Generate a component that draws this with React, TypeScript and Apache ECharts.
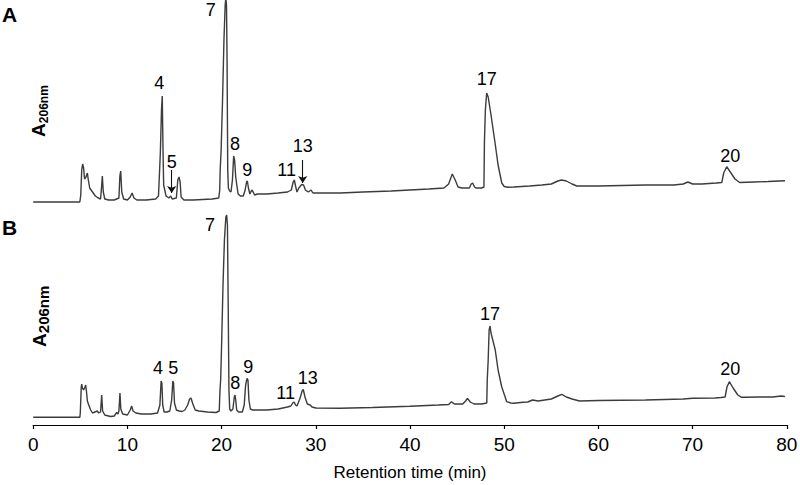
import React, { useEffect, useRef } from "react";
import * as echarts from "echarts";

// Retention time (min), absorbance (arbitrary units)
const traceA: [number, number][] = [
  [0, 8], [4.95, 8], [5.05, 15], [5.15, 40], [5.25, 46], [5.35, 42], [5.45, 31], [5.6, 33], [5.75, 37], [5.85, 30],
  [6.0, 22], [6.3, 18], [6.6, 14], [6.9, 12], [7.15, 11], [7.25, 22], [7.34, 34], [7.44, 18], [7.6, 11], [8.0, 10],
  [8.6, 10], [9.1, 12], [9.2, 34], [9.29, 39], [9.4, 18], [9.6, 11], [10.0, 10], [10.3, 13], [10.5, 17], [10.7, 12],
  [11.0, 10], [12.0, 10], [13.0, 11], [13.3, 14], [13.42, 40], [13.5, 58], [13.62, 100], [13.7, 114], [13.78, 60],
  [13.85, 25], [14.1, 14], [14.4, 12], [14.6, 14], [14.75, 11], [15.2, 12], [15.35, 30], [15.48, 33], [15.6, 28],
  [15.7, 13], [16.0, 10], [17.0, 10], [18.0, 10.5], [19.0, 11], [19.7, 12], [19.8, 20], [19.85, 40], [19.95, 60],
  [20.1, 110], [20.25, 170], [20.38, 205], [20.45, 212], [20.52, 205], [20.58, 150], [20.65, 40], [20.72, 22],
  [20.85, 19], [21.0, 18], [21.15, 30], [21.28, 54], [21.38, 50], [21.5, 33], [21.6, 26], [21.75, 16], [22.0, 14],
  [22.3, 14], [22.5, 20], [22.65, 28], [22.73, 29], [22.85, 22], [23.0, 16], [23.2, 20], [23.35, 18], [23.5, 15],
  [23.8, 16], [24.8, 16], [26.0, 17], [27.0, 18], [27.4, 20], [27.6, 28], [27.72, 30], [27.85, 24], [28.0, 18],
  [28.2, 22], [28.5, 25.5], [28.7, 25], [28.9, 20], [29.2, 18], [29.5, 20], [29.7, 17], [30.0, 17], [32.6, 17],
  [35.0, 18], [38.0, 19], [40.0, 20], [42.0, 21], [43.6, 22], [44.1, 26], [44.49, 36], [44.8, 30], [45.1, 23],
  [45.5, 22], [46.3, 22], [46.5, 26], [46.65, 27], [46.85, 23], [47.0, 22], [47.6, 22], [47.85, 23], [47.9, 67],
  [48.0, 100], [48.14, 117], [48.3, 113], [48.6, 95], [49.03, 67], [49.35, 45], [49.74, 27], [50.0, 23.5],
  [50.4, 22.7], [51.0, 23], [52.7, 24], [54.0, 25], [55.0, 26], [55.7, 29], [56.1, 30], [56.6, 29], [57.2, 26],
  [57.7, 24], [60.0, 24], [65.0, 25], [68.0, 25], [69.0, 26], [69.5, 28], [70.0, 26], [71.0, 26], [72.5, 27],
  [73.1, 27.5], [73.3, 37], [73.62, 43.3], [74.0, 38], [74.5, 31], [75.0, 27.5], [76.5, 28], [78.0, 28.5], [79.8, 29.3],
];

const traceB: [number, number][] = [
  [0, 7.7], [4.95, 7.7], [5.0, 12], [5.1, 38], [5.15, 41], [5.22, 37], [5.35, 35], [5.5, 38], [5.57, 40], [5.65, 34],
  [5.75, 24], [5.9, 20], [6.1, 15], [6.3, 12], [6.55, 13], [6.8, 14], [6.95, 12], [7.15, 13], [7.27, 30], [7.37, 14],
  [7.6, 10], [8.2, 8.5], [8.6, 9], [8.86, 12.5], [9.0, 11], [9.1, 14], [9.21, 32], [9.3, 16], [9.5, 11], [10.0, 10],
  [10.3, 15], [10.45, 19], [10.6, 14], [10.9, 12], [11.5, 11], [12.5, 11], [13.2, 12], [13.45, 20], [13.58, 44],
  [13.66, 42], [13.75, 20], [13.9, 13], [14.2, 13], [14.5, 14], [14.7, 25], [14.82, 44], [14.9, 42], [15.0, 22],
  [15.2, 15], [15.5, 14], [15.8, 13.5], [16.1, 15], [16.4, 20], [16.6, 26], [16.75, 27], [16.95, 21], [17.2, 15],
  [17.6, 14], [18.5, 13], [19.4, 12.5], [19.75, 14], [19.82, 33], [19.9, 45], [20.0, 80], [20.15, 140], [20.3, 185],
  [20.45, 208], [20.54, 210], [20.62, 200], [20.7, 120], [20.78, 35], [20.86, 16], [21.0, 14], [21.2, 16],
  [21.35, 28], [21.42, 30], [21.5, 25], [21.6, 15], [21.8, 13], [22.2, 13], [22.4, 20], [22.55, 40], [22.7, 46.7],
  [22.8, 45], [22.9, 25], [23.05, 16], [23.3, 15], [23.6, 15], [24.8, 15], [26.0, 16], [27.0, 18], [27.35, 19],
  [27.55, 22], [27.7, 23], [27.85, 20], [28.0, 19], [28.3, 26], [28.55, 34], [28.67, 35.7], [28.85, 28], [29.1, 21],
  [29.4, 20], [29.6, 18], [30.0, 17], [32.6, 16.7], [36.0, 17.5], [40.0, 18.7], [43.0, 20], [44.1, 20.5],
  [44.4, 23.3], [44.7, 21], [45.2, 21], [45.6, 21], [45.9, 24], [46.1, 26.7], [46.4, 23], [46.8, 21], [47.6, 21],
  [48.15, 22], [48.2, 45], [48.3, 65], [48.4, 95], [48.5, 99], [48.6, 92], [49.05, 75], [49.35, 55], [49.74, 38],
  [50.27, 23.3], [50.7, 22], [51.0, 21.7], [52.0, 22.7], [52.5, 23], [53.0, 25], [53.6, 24], [55.0, 26], [55.7, 29],
  [56.1, 30.7], [56.6, 28], [57.2, 26], [58.0, 24], [60.0, 24.5], [65.0, 25], [69.0, 26], [70.0, 26.7], [72.4, 27],
  [73.0, 27.5], [73.45, 28], [73.65, 38], [73.9, 43.3], [74.3, 37], [74.8, 30], [75.2, 27.7], [75.6, 27.7],
  [77.0, 28], [78.5, 28], [79.4, 29], [79.8, 28.5],
];

// Peak number labels: [peak, time, height]
const peakLabelsA: [string, number, number][] = [
  ["4", 13.39, 127], ["5", 14.7, 48], ["7", 18.84, 200], ["8", 21.42, 66], ["9", 22.73, 40],
  ["11", 26.91, 40], ["13", 28.61, 64], ["17", 48.14, 131], ["20", 74.0, 54],
];
const peakLabelsB: [string, number, number][] = [
  ["4", 13.25, 57], ["5", 14.87, 57], ["7", 18.77, 200], ["8", 21.45, 42], ["9", 22.83, 58],
  ["11", 26.8, 32], ["13", 29.14, 47], ["17", 48.5, 111], ["20", 74.0, 56],
];
// Arrows in panel A: [time, from height, to height]
const arrowsA: [number, number, number][] = [
  [14.7, 40, 17], [28.61, 50, 27],
];
const xTicks = { min: 0, max: 80, interval: 10 };

const FONT = "'Liberation Sans', Arial, Helvetica, sans-serif";

export default function App() {
  const ref = useRef<HTMLDivElement>(null);
  useEffect(() => {
    if (!ref.current) return;
    const chart = echarts.init(ref.current, null, { renderer: "svg" });
    const lineColor = "#3c3c3c";
    const labelSeries = (data: [string, number, number][], idx: number) => ({
      type: "scatter",
      xAxisIndex: idx,
      yAxisIndex: idx,
      symbolSize: 1,
      itemStyle: { color: "rgba(0,0,0,0)" },
      data: data.map(([n, t, v]) => ({ name: n, value: [t, v] })),
      label: {
        show: true,
        position: "inside",
        formatter: (p: any) => p.name,
        fontFamily: FONT,
        fontSize: 18,
        color: "#000",
        opacity: 1,
      },
      silent: true,
      z: 5,
    });
    const yLabel = (x: number, y: number, subSize: number) => ({
      type: "group",
      x,
      y,
      rotation: Math.PI / 2,
      children: [
        {
          type: "text",
          x: 0,
          y: -7,
          style: { text: "A", fontSize: 19, fontWeight: "bold", fontFamily: FONT, fill: "#000", align: "left", verticalAlign: "middle" },
        },
        {
          type: "text",
          x: 13.8,
          y: -subSize * 0.36 + 3,
          style: { text: "206nm", fontSize: subSize, fontWeight: "bold", fontFamily: FONT, fill: "#000", align: "left", verticalAlign: "middle" },
        },
      ],
    });
    chart.setOption({
      animation: false,
      backgroundColor: "#fff",
      grid: [
        { left: 33.2, right: 13.2, top: 0, height: 210, outerBoundsMode: "none" },
        { left: 33.2, right: 13.2, top: 215, height: 210, outerBoundsMode: "none" },
      ],
      xAxis: [
        { type: "value", gridIndex: 0, ...xTicks, show: false },
        {
          type: "value",
          gridIndex: 1,
          ...xTicks,
          offset: 3,
          axisLine: { show: true, lineStyle: { color: "#000", width: 1.2 } },
          axisTick: { show: true, inside: false, length: 4, lineStyle: { color: "#000", width: 1.2 } },
          splitLine: { show: false },
          axisLabel: { fontFamily: FONT, fontSize: 19, color: "#000", margin: 7 },
          name: "Retention time (min)",
          nameLocation: "middle",
          nameGap: 36,
          nameTextStyle: { fontFamily: FONT, fontSize: 17, color: "#000" },
        },
      ],
      yAxis: [
        { type: "value", gridIndex: 0, min: 0, max: 210, show: false },
        { type: "value", gridIndex: 1, min: 0, max: 210, show: false },
      ],
      series: [
        {
          type: "line", xAxisIndex: 0, yAxisIndex: 0, data: traceA, showSymbol: false, symbol: "none",
          itemStyle: { color: "#111" },
          lineStyle: { color: lineColor, width: 1.4 }, clip: false, silent: true,
          markLine: {
            silent: true,
            symbol: ["none", "arrow"],
            symbolSize: 7,
            label: { show: false },
            lineStyle: { color: "#111", width: 1.1, type: "solid", opacity: 1 },
            emphasis: { disabled: true },
            data: arrowsA.map(([t, a, b]) => [{ coord: [t, a] }, { coord: [t, b] }]),
          },
        },
        {
          type: "line", xAxisIndex: 1, yAxisIndex: 1, data: traceB, showSymbol: false, symbol: "none",
          lineStyle: { color: lineColor, width: 1.4 }, clip: false, silent: true,
        },
        labelSeries(peakLabelsA, 0),
        labelSeries(peakLabelsB, 1),
      ],
      graphic: [
        { type: "text", x: 9.5, y: 14, style: { text: "A", fontSize: 21, fontWeight: "bold", fontFamily: FONT, fill: "#000", align: "center", verticalAlign: "middle" } },
        { type: "text", x: 9.5, y: 227, style: { text: "B", fontSize: 21, fontWeight: "bold", fontFamily: FONT, fill: "#000", align: "center", verticalAlign: "middle" } },
        yLabel(45.5, 137, 12),
        yLabel(46, 347, 15),
      ],
    });
    return () => chart.dispose();
  }, []);
  return <div ref={ref} style={{ position: "fixed", left: 0, top: 0, width: 800, height: 485 }} />;
}
